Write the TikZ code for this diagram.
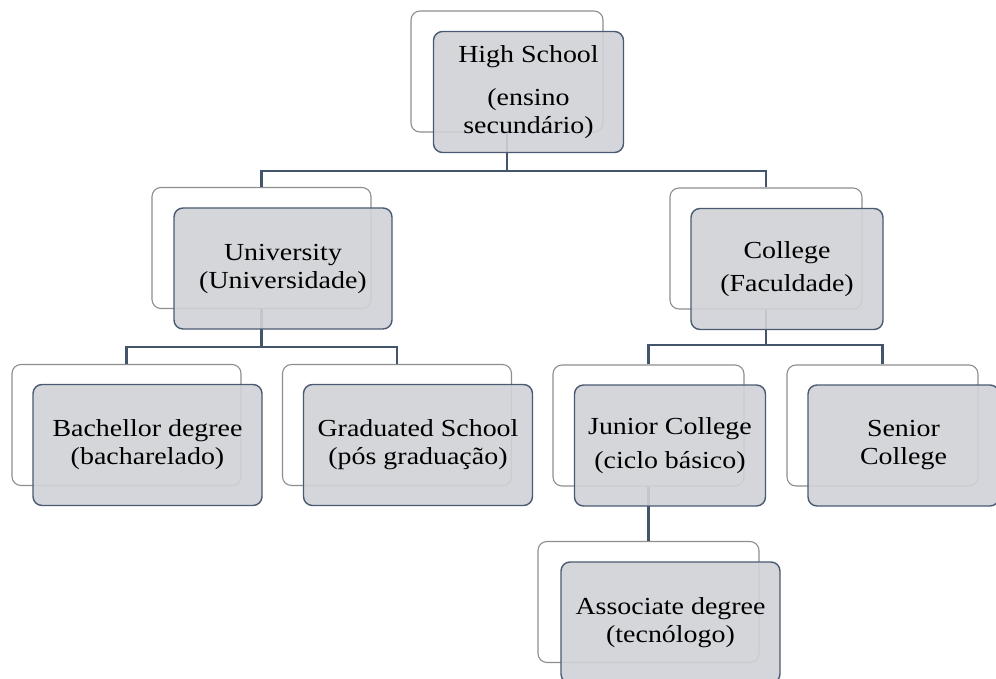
\documentclass[tikz,border=0pt]{standalone}
\usepackage{fontspec}
\setmainfont[FakeStretch=1.14]{Liberation Serif}
\definecolor{frontfill}{HTML}{D0D2D7}
\definecolor{frontline}{HTML}{4A5A72}
\definecolor{backline}{HTML}{8E8E8E}
\definecolor{connline}{HTML}{44546A}
\begin{document}
\begin{tikzpicture}[x=1pt,y=-1pt,
  backbox/.style={draw=backline, line width=1.1pt, fill=white, rounded corners=9pt,
    inner sep=0pt, minimum height=121pt},
  frontbox/.style={draw=frontline, line width=1.4pt, fill=frontfill, fill opacity=0.9,
    text opacity=1, rounded corners=9pt, inner sep=0pt, minimum height=121pt,
    align=center, font=\fontsize{24.5}{28}\selectfont},
  conn/.style={draw=connline, line width=2.6pt, line join=miter}]
\useasboundingbox (0,0) rectangle (996,679);
% back boxes
\node[backbox, minimum width=192pt] (hsB)   at (507,71.5) {};
\node[backbox, minimum width=219pt] (uniB)  at (261.5,248) {};
\node[backbox, minimum width=192pt] (colB)  at (766,248.5) {};
\node[backbox, minimum width=229pt] (bacB)  at (126.5,425) {};
\node[backbox, minimum width=229pt] (gradB) at (397,425) {};
\node[backbox, minimum width=191pt] (junB)  at (648.5,425.5) {};
\node[backbox, minimum width=191pt] (senB)  at (882.5,425.5) {};
\node[backbox, minimum width=221pt] (ascB)  at (648.5,602) {};
% connectors
\coordinate (j1) at (0,171);
\coordinate (j2) at (0,347);
\coordinate (j3) at (0,345);
\draw[conn] (hsB.south) -- (hsB.south |- j1);
\draw[conn] (uniB.north) |- (colB.north |- j1) -- (colB.north);
\draw[conn] (uniB.south) -- (uniB.south |- j2);
\draw[conn] (bacB.north) |- (gradB.north |- j2) -- (gradB.north);
\draw[conn] (colB.south) -- (colB.south |- j3);
\draw[conn] (junB.north) |- (senB.north |- j3) -- (senB.north);
\draw[conn] (junB.south) -- (ascB.north);
% front boxes
\node[frontbox, minimum width=190pt] (hs)   at (528.5,92) {High School\\[15pt](ensino\\secundário)};
\node[frontbox, minimum width=218pt] (uni)  at (283,268.5) {University\\(Universidade)};
\node[frontbox, minimum width=192pt] (col)  at (787,269) {College\\[5pt](Faculdade)};
\node[frontbox, minimum width=229pt] (bac)  at (147.5,445) {Bachellor degree\\(bacharelado)};
\node[frontbox, minimum width=229pt] (grad) at (418,445) {Graduated School\\(pós graduação)};
\node[frontbox, minimum width=191pt] (jun)  at (670,445.5) {Junior College\\[6pt](ciclo básico)};
\node[frontbox, minimum width=191pt] (sen)  at (903.5,445.5) {Senior\\College};
\node[frontbox, minimum width=219pt] (asc)  at (670.5,622.5) {Associate degree\\(tecnólogo)};
\end{tikzpicture}
\end{document}
